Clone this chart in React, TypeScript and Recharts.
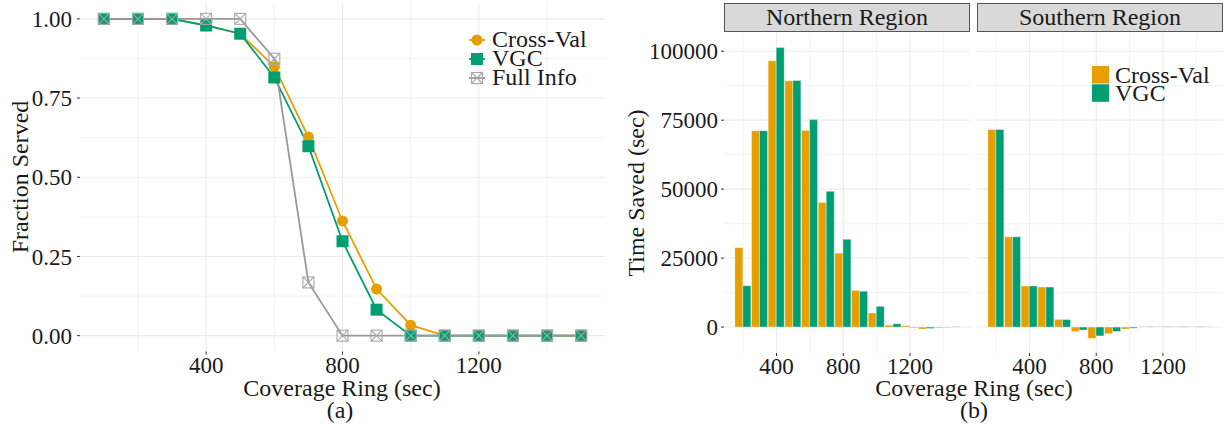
import React from 'react';
import { LineChart, Line, BarChart, Bar, XAxis, YAxis, CartesianGrid } from 'recharts';

const ORANGE = '#E69F00';
const GREEN = '#009E73';
const GREY = '#999999';
const MARK_GREY = '#a8a8a8';
const FONT = "Liberation Serif, DejaVu Serif, serif";
const INK = '#1a1a1a';
const GRID = '#ebebeb';

// panel (a): fraction served per coverage ring
const rings = [100, 200, 300, 400, 500, 600, 700, 800, 900, 1000, 1100, 1200, 1300, 1400, 1500];
const crossValServed = [1, 1, 1, 0.979, 0.953, 0.849, 0.627, 0.362, 0.147, 0.033, 0, 0, 0, 0, 0];
const vgcServed = [1, 1, 1, 0.979, 0.953, 0.815, 0.598, 0.298, 0.082, 0, 0, 0, 0, 0, 0];
const fullInfoServed = [1, 1, 1, 1, 1, 0.874, 0.168, 0, 0, 0, 0, 0, 0, 0, 0];

// panel (b): time saved per coverage ring, by region
const barRings = [200, 300, 400, 500, 600, 700, 800, 900, 1000, 1100, 1200, 1300, 1400, 1500];
const northCrossVal = [28800, 71200, 96500, 89300, 71300, 45200, 26800, 13300, 5100, 700, 500, -700, -300, 200];
const northVgc = [15000, 71200, 101300, 89400, 75200, 49200, 31800, 13000, 7500, 1200, -200, -500, -150, 0];
const southCrossVal = [71600, 32700, 14900, 14500, 2800, -1600, -4100, -2400, -700, 150, 150, 150, 150, 150];
const southVgc = [71600, 32700, 14900, 14500, 2700, -1100, -3200, -1600, -400, 150, 150, 150, 150, 0];

const fracTicks = [0, 0.25, 0.5, 0.75, 1];
const fracMinor = [0.125, 0.375, 0.625, 0.875];
const ringTicks = [400, 800, 1200];
const ringMinor = [200, 600, 1000, 1400];
const savedTicks = [0, 25000, 50000, 75000, 100000];
const savedMinor = [12500, 37500, 62500, 87500];

const servedData = rings.map((ring, i) => ({
  ring,
  cv: crossValServed[i],
  vgc: vgcServed[i],
  full: fullInfoServed[i],
}));
const northData = barRings.map((ring, i) => ({ ring, cv: northCrossVal[i], vgc: northVgc[i] }));
const southData = barRings.map((ring, i) => ({ ring, cv: southCrossVal[i], vgc: southVgc[i] }));

const tickStyle = { fontSize: 23, fill: INK, fontFamily: FONT };

function CircleMark({ cx, cy }: { cx: number; cy: number }) {
  return <circle cx={cx} cy={cy} r={5.5} fill={ORANGE} />;
}
function SquareMark({ cx, cy }: { cx: number; cy: number }) {
  return <rect x={cx - 6} y={cy - 6} width={12} height={12} fill={GREEN} />;
}
function CrossSquareMark({ cx, cy }: { cx: number; cy: number }) {
  const h = 5.5;
  return (
    <g stroke={MARK_GREY} strokeWidth={1.1} fill="none">
      <rect x={cx - h} y={cy - h} width={h * 2} height={h * 2} />
      <line x1={cx - h} y1={cy - h} x2={cx + h} y2={cy + h} />
      <line x1={cx - h} y1={cy + h} x2={cx + h} y2={cy - h} />
    </g>
  );
}

const dotCv = (p: any) => <CircleMark key={`cv-${p.index}`} cx={p.cx} cy={p.cy} />;
const dotVgc = (p: any) => <SquareMark key={`vgc-${p.index}`} cx={p.cx} cy={p.cy} />;
const dotFull = (p: any) => <CrossSquareMark key={`full-${p.index}`} cx={p.cx} cy={p.cy} />;

function Grids({ hMinor, hMajor }: { hMinor: number[]; hMajor: number[] }) {
  return (
    <>
      <CartesianGrid stroke={GRID} strokeWidth={0.6} horizontalValues={hMinor} verticalValues={ringMinor} />
      <CartesianGrid stroke={GRID} strokeWidth={1.1} horizontalValues={hMajor} verticalValues={ringTicks} />
    </>
  );
}

function FacetBars({ data, showY, width }: { data: any[]; showY: boolean; width: number }) {
  return (
    <BarChart
      width={width}
      height={427}
      data={data}
      barGap={0}
      margin={{ top: 33, right: 0, left: 0, bottom: 44 }}
    >
      {Grids({ hMinor: savedMinor, hMajor: savedTicks })}
      <XAxis
        type="number"
        dataKey="ring"
        domain={[85, 1560]}
        allowDataOverflow
        ticks={ringTicks}
        axisLine={false}
        tickLine={{ stroke: '#333' }}
        tickSize={3}
        tickMargin={1.5}
        tick={tickStyle}
        height={30}
      />
      <YAxis
        hide={!showY}
        width={104}
        domain={[-9400, 106600]}
        allowDataOverflow
        ticks={savedTicks}
        interval={0}
        axisLine={false}
        tickLine={{ stroke: '#333' }}
        tickSize={3}
        tickMargin={3}
        tick={tickStyle}
      />
      <Bar dataKey="cv" fill={ORANGE} barSize={8} stroke="#ffffff" strokeOpacity={0.45} strokeWidth={0.8} isAnimationActive={false} />
      <Bar dataKey="vgc" fill={GREEN} barSize={8} stroke="#ffffff" strokeOpacity={0.45} strokeWidth={0.8} isAnimationActive={false} />
    </BarChart>
  );
}

const abs = (left: number, top: number, extra: React.CSSProperties = {}): React.CSSProperties => ({
  position: 'absolute',
  left,
  top,
  ...extra,
});

const titleStyle: React.CSSProperties = {
  fontFamily: FONT,
  fontSize: 24,
  lineHeight: '24px',
  color: INK,
  textAlign: 'center',
  whiteSpace: 'nowrap',
};

const stripStyle: React.CSSProperties = {
  boxSizing: 'border-box',
  background: '#d9d9d9',
  border: '1px solid #555555',
  fontFamily: FONT,
  fontSize: 24,
  lineHeight: '27px',
  color: INK,
  textAlign: 'center',
  height: 29,
};

export default function App() {
  return (
    <div style={{ position: 'absolute', left: 0, top: 0, width: 1225, height: 427, background: '#ffffff', overflow: 'hidden' }}>
      {/* panel (a) */}
      <div style={abs(0, 0)}>
        <LineChart width={620} height={427} data={servedData} margin={{ top: 3, right: 15, left: 0, bottom: 45.5 }}>
          {Grids({ hMinor: fracMinor, hMajor: fracTicks })}
          <XAxis
            type="number"
            dataKey="ring"
            domain={[30, 1570]}
            allowDataOverflow
            ticks={ringTicks}
            axisLine={false}
            tickLine={{ stroke: '#333' }}
            tickSize={3}
            tickMargin={2.5}
            tick={tickStyle}
            height={30}
          />
          <YAxis
            width={80}
            domain={[-0.05, 1.05]}
            allowDataOverflow
            ticks={fracTicks}
            interval={0}
            tickFormatter={(v: number) => v.toFixed(2)}
            axisLine={false}
            tickLine={{ stroke: '#333' }}
            tickSize={3}
            tickMargin={5}
            tick={tickStyle}
          />
          <Line type="linear" dataKey="cv" stroke={ORANGE} strokeWidth={1.8} dot={dotCv} activeDot={false} isAnimationActive={false} />
          <Line type="linear" dataKey="vgc" stroke={GREEN} strokeWidth={1.8} dot={dotVgc} activeDot={false} isAnimationActive={false} />
          <Line type="linear" dataKey="full" stroke={GREY} strokeWidth={1.8} dot={dotFull} activeDot={false} isAnimationActive={false} />
        </LineChart>
      </div>

      {/* panel (b) facets */}
      <div style={abs(620, 0)}>
        <FacetBars data={northData} showY width={350} />
      </div>
      <div style={abs(977, 0)}>
        <FacetBars data={southData} showY={false} width={246} />
      </div>

      <div style={abs(724, 3, { ...stripStyle, width: 246 })}>Northern Region</div>
      <div style={abs(977, 3, { ...stripStyle, width: 246 })}>Southern Region</div>

      {/* axis titles and captions */}
      <div style={abs(-80, 165, { ...titleStyle, width: 200, height: 24, transform: 'rotate(-90deg)' })}>Fraction Served</div>
      <div style={abs(536, 181, { ...titleStyle, width: 200, height: 24, transform: 'rotate(-90deg)' })}>Time Saved (sec)</div>
      <div style={abs(192, 376, { ...titleStyle, width: 300 })}>Coverage Ring (sec)</div>
      <div style={abs(290, 398, { ...titleStyle, width: 100 })}>(a)</div>
      <div style={abs(824, 376, { ...titleStyle, width: 300 })}>Coverage Ring (sec)</div>
      <div style={abs(924, 398, { ...titleStyle, width: 100 })}>(b)</div>

      {/* legends */}
      <svg width={1225} height={427} style={abs(0, 0, { pointerEvents: 'none' })}>
        <g fontFamily={FONT} fontSize={24} fill={INK}>
          <line x1={469} x2={485} y1={40} y2={40} stroke={ORANGE} strokeWidth={1.8} />
          <CircleMark cx={477} cy={40} />
          <text x={492} y={47}>Cross-Val</text>
          <line x1={469} x2={485} y1={59} y2={59} stroke={GREEN} strokeWidth={1.8} />
          <SquareMark cx={477} cy={59} />
          <text x={492} y={66}>VGC</text>
          <line x1={469} x2={485} y1={78} y2={78} stroke={GREY} strokeWidth={1.8} />
          <CrossSquareMark cx={477} cy={78} />
          <text x={492} y={85}>Full Info</text>

          <rect x={1092} y={66} width={17} height={17.5} fill={ORANGE} />
          <rect x={1092} y={84.3} width={17} height={17.5} fill={GREEN} />
          <text x={1115} y={82.5}>Cross-Val</text>
          <text x={1115} y={101}>VGC</text>
        </g>
      </svg>
    </div>
  );
}
